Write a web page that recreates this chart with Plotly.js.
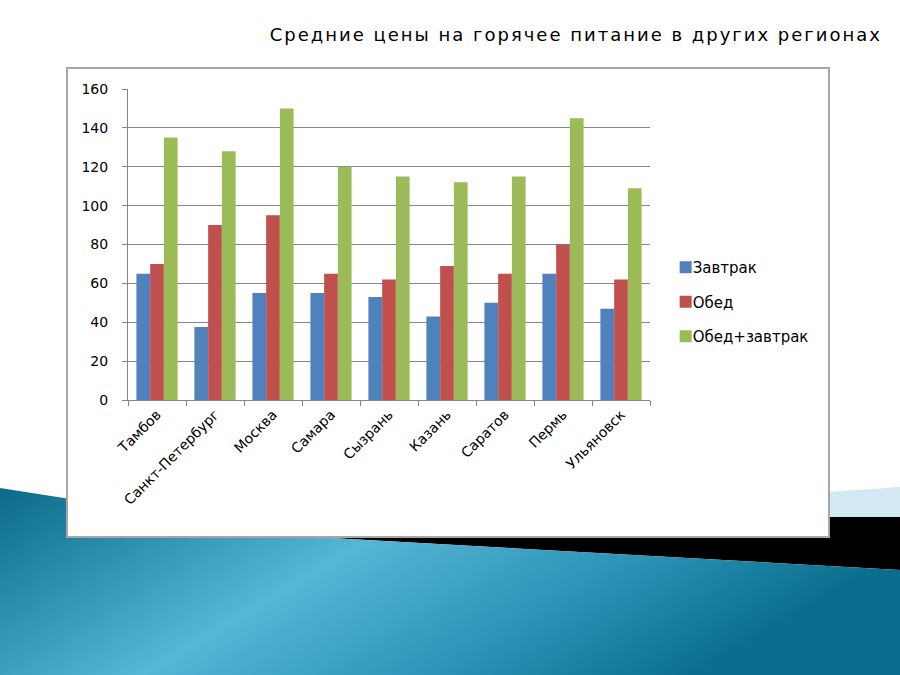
<!DOCTYPE html>
<html>
<head>
<meta charset="utf-8">
<script src="https://cdn.plot.ly/plotly-3.0.1.min.js"></script>
<style>
  html, body { margin: 0; padding: 0; background: #ffffff; }
  #wrap { position: relative; width: 900px; height: 675px; overflow: hidden; }
  #bg { position: absolute; left: 0; top: 0; }
  #chart { position: absolute; left: 0; top: 0; width: 900px; height: 675px; }
  #chart .gtitle { letter-spacing: 2px; }
  #chart .legend .legendtext { transform: translate(-13px, 0); }
</style>
</head>
<body>
<div id="wrap">
  <svg id="bg" width="900" height="675" xmlns="http://www.w3.org/2000/svg">
    <defs>
      <linearGradient id="g1" x1="0" y1="0" x2="1" y2="0.35">
        <stop offset="0" stop-color="#0a6a88"/>
        <stop offset="0.45" stop-color="#56b6d6"/>
        <stop offset="0.75" stop-color="#2a93b6"/>
        <stop offset="1" stop-color="#0b6e8e"/>
      </linearGradient>
    </defs>
    <polygon points="480,516 900,487 900,517 480,517" fill="#d3e8f0"/>
    <polygon points="313,537 480,517 900,517 900,570" fill="#000000"/>
    <polygon points="0,488 313,537 900,570 900,675 0,675" fill="url(#g1)"/>
  </svg>
  <div id="chart"></div>
</div>
<script>
const cities = ["Тамбов", "Санкт-Петербург", "Москва", "Самара", "Сызрань", "Казань", "Саратов", "Пермь", "Ульяновск"];
const breakfast = [65, 37.5, 55, 55, 53, 43, 50, 65, 47];
const lunch = [70, 90, 95, 65, 62, 69, 65, 80, 62];
const both = [135, 128, 150, 120, 115, 112, 115, 145, 109];
const seriesNames = ["Завтрак", "Обед", "Обед+завтрак"];
const titleText = "Средние цены на горячее питание в других регионах";

const colors = ["#4F81BD", "#C0504D", "#9BBB59"];
const values = [breakfast, lunch, both];

const traces = values.map((v, i) => ({
  type: "bar",
  x: cities,
  y: v,
  name: seriesNames[i],
  legendgroup: "g" + i,
  marker: { color: colors[i], line: { width: 0 } },
  hoverinfo: "x+y+name"
}));

const layout = {
  width: 900,
  height: 675,
  margin: { l: 128, r: 250, t: 89, b: 275 },
  paper_bgcolor: "rgba(0,0,0,0)",
  plot_bgcolor: "#ffffff",
  barmode: "group",
  bargap: 0.29,
  bargroupgap: 0,
  font: { family: "DejaVu Sans, Verdana, sans-serif", size: 14, color: "#000000" },
  title: {
    text: titleText,
    font: { family: "DejaVu Sans, Verdana, sans-serif", size: 18, color: "#000000" },
    xref: "container", yref: "container",
    x: 882 / 900, xanchor: "right",
    y: 1 - 35 / 675, yanchor: "middle"
  },
  xaxis: {
    type: "category",
    tickangle: -45,
    tickson: "boundaries",
    ticks: "outside",
    ticklen: 5,
    tickcolor: "#868686",
    showline: true,
    linecolor: "#868686",
    linewidth: 1,
    showgrid: false,
    tickfont: { size: 14, color: "#000000" }
  },
  yaxis: {
    range: [0, 160],
    dtick: 20,
    ticks: "outside",
    ticklen: 5,
    tickcolor: "#868686",
    showline: true,
    linecolor: "#868686",
    linewidth: 1,
    showgrid: true,
    gridcolor: "#868686",
    gridwidth: 1,
    zeroline: false,
    ticklabelstandoff: 11,
    tickfont: { size: 14, color: "#000000" }
  },
  legend: {
    x: 1.03, xanchor: "left",
    y: 0.315, yanchor: "middle",
    bgcolor: "rgba(0,0,0,0)",
    font: { size: 15, color: "#000000" },
    tracegroupgap: 12,
    itemclick: false
  },
  shapes: [{
    type: "rect",
    xref: "paper", yref: "paper",
    x0: (67 - 128) / 522, x1: (829 - 128) / 522,
    y0: (400 - 537) / 311, y1: (400 - 68) / 311,
    fillcolor: "#ffffff",
    line: { color: "#a6a6a6", width: 2 },
    layer: "below"
  }]
};

Plotly.newPlot("chart", traces, layout, { displayModeBar: false, staticPlot: true });
</script>
</body>
</html>
